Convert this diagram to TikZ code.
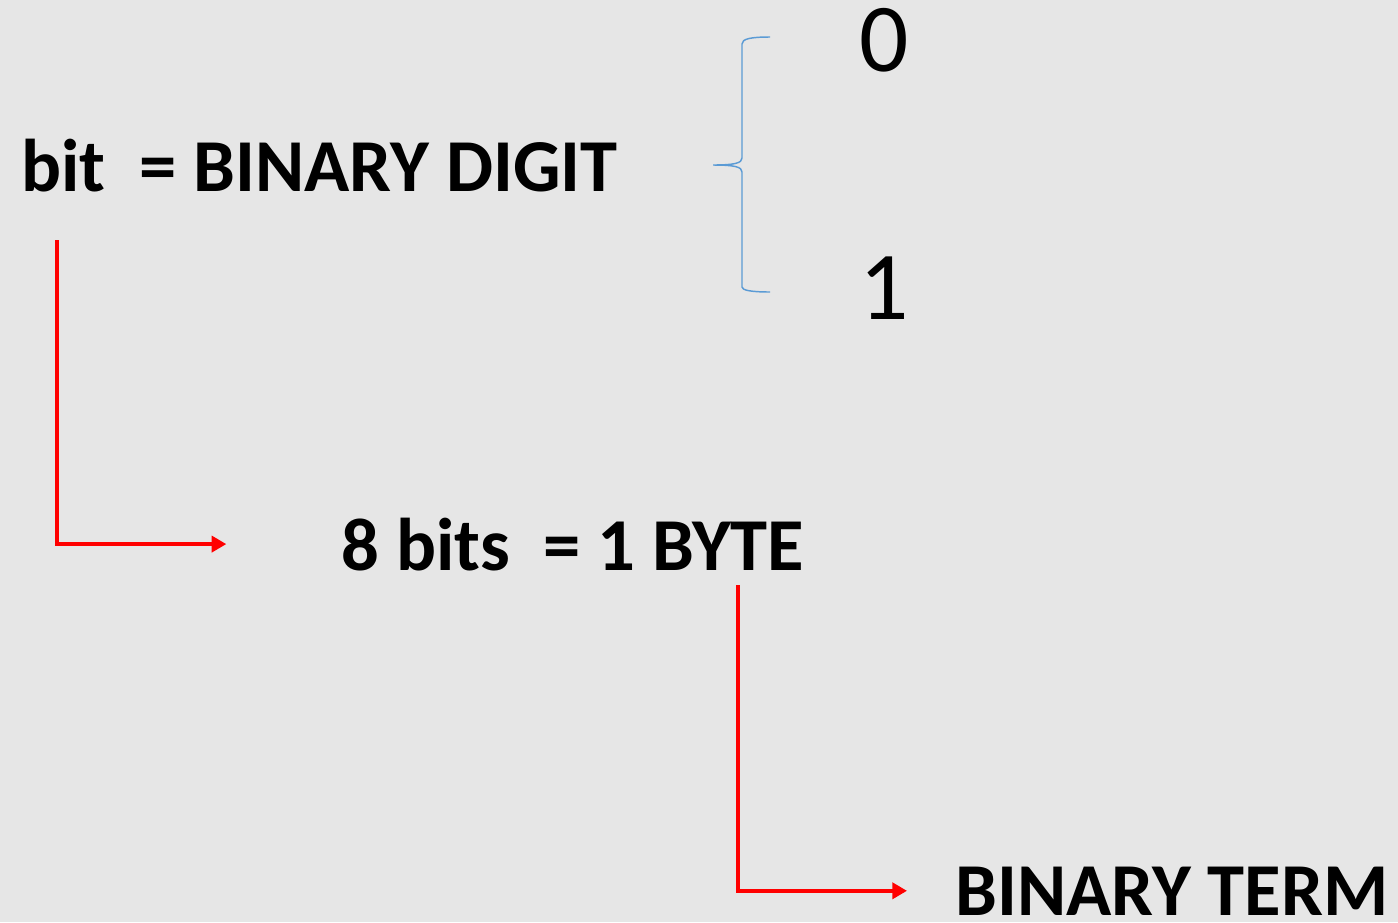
\documentclass[tikz,border=0pt]{standalone}
\usepackage{fontspec}
\setmainfont{Carlito}
\usepackage{xcolor}
\usetikzlibrary{positioning,arrows.meta}

\begin{document}
\begin{tikzpicture}[
  x=0.75pt, y=-0.75pt,
  >={Triangle[length=11pt,width=12pt]},
  term/.style={
    font=\fontsize{56}{67}\selectfont\bfseries,
    inner sep=0pt,
    anchor=base west
  },
  digit/.style={
    font=\fontsize{73}{88}\selectfont,
    inner sep=0pt,
    anchor=base
  },
  link/.style={->,line width=3.3pt,draw=linkred},
  brace/.style={line width=1.1pt,draw=bracebl}
]
\definecolor{paper}{HTML}{E6E6E6}
\definecolor{linkred}{HTML}{FF0000}
\definecolor{bracebl}{HTML}{5B9BD5}

% page
\fill[paper] (0,0) rectangle (1398,922);

\node[term] (bit) at (21,191) {bit\ \ = BINARY DIGIT};
\node[term] (bytes) at (341,570) {8 bits\ \ = 1 BYTE};
\node[term] (binterm) at (955,915) {BINARY TERM};

\node[digit] (zero) at (884,71) {0};
\node[digit] (one) at (884,319) {1};

% curly brace in front of the two values
\draw[brace] (770,37) .. controls (750,37) and (742,39) .. (742,44)
  -- (742,158) .. controls (742,163) and (735,165) .. (713,165)
  .. controls (735,165) and (742,167) .. (742,172)
  -- (742,287) .. controls (742,290) and (750,292) .. (770,292);

\coordinate (bitfoot) at (57,240);
\coordinate (bytefoot) at (738,585);

\draw[link, shorten >=86pt] (bitfoot) |- (bytes.west);
\draw[link, shorten >=36pt] (bytefoot) |- (binterm.west);
\end{tikzpicture}
\end{document}
